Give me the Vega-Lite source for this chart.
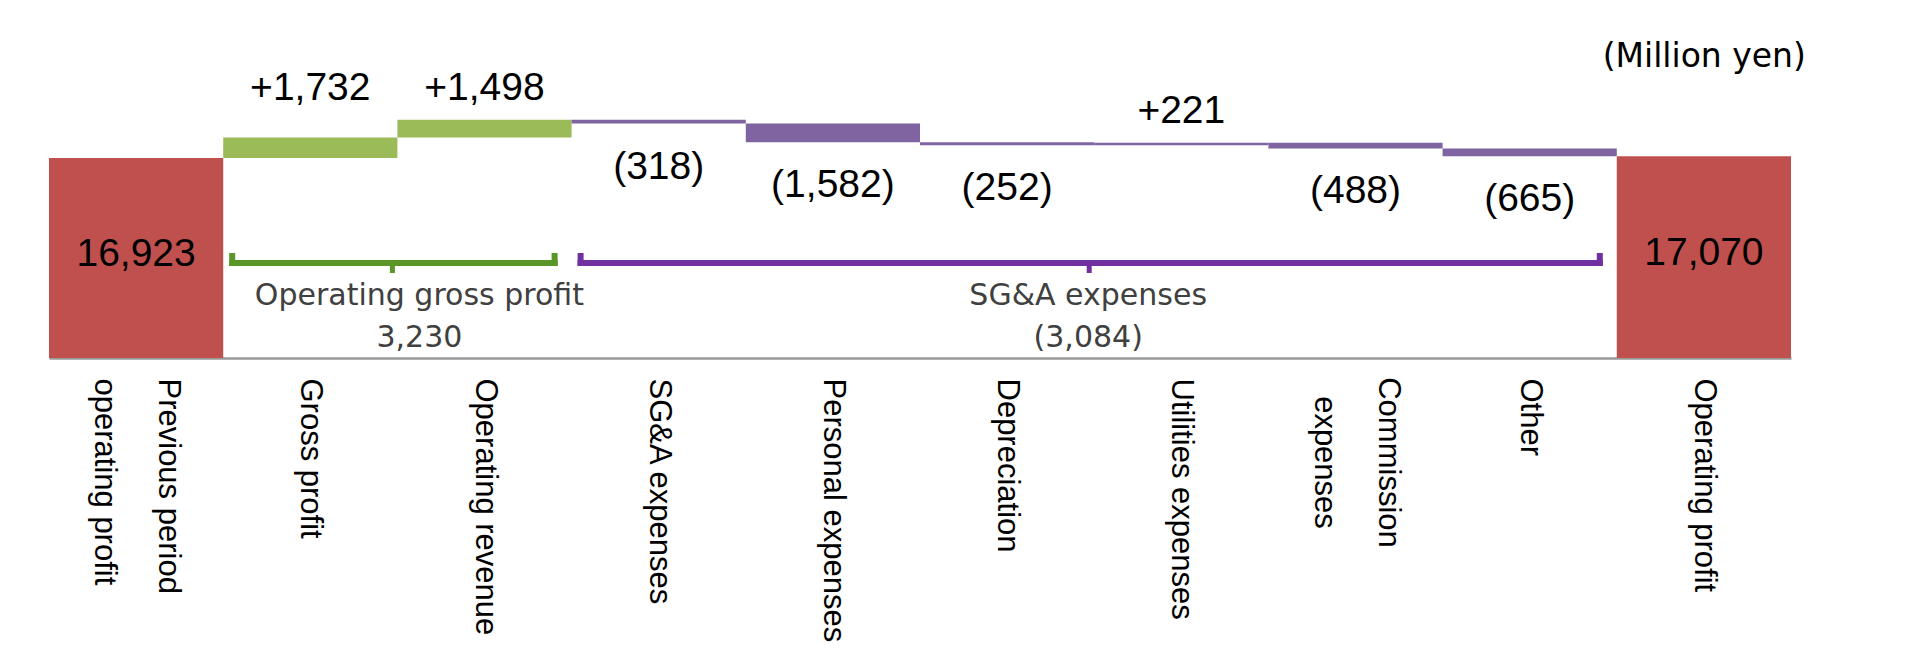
{
  "$schema": "https://vega.github.io/schema/vega-lite/v6.json",
  "autosize": {"type": "none"},
  "width": 1742,
  "height": 358,
  "padding": {"left": 49, "top": 0, "right": 136, "bottom": 292},
  "background": "white",
  "config": {"view": {"stroke": null}},
  "datasets": {
    "steps": [
      {"item": "Previous period operating profit", "amount": 16923, "kind": "start", "group": "total", "label": "16,923"},
      {"item": "Gross profit", "amount": 1732, "kind": "step", "group": "Operating gross profit", "label": "+1,732"},
      {"item": "Operating revenue", "amount": 1498, "kind": "step", "group": "Operating gross profit", "label": "+1,498"},
      {"item": "SG&A expenses", "amount": -318, "kind": "step", "group": "SG&A expenses", "label": "(318)"},
      {"item": "Personal expenses", "amount": -1582, "kind": "step", "group": "SG&A expenses", "label": "(1,582)"},
      {"item": "Depreciation", "amount": -252, "kind": "step", "group": "SG&A expenses", "label": "(252)"},
      {"item": "Utilities expenses", "amount": 221, "kind": "step", "group": "SG&A expenses", "label": "+221"},
      {"item": "Commission expenses", "amount": -488, "kind": "step", "group": "SG&A expenses", "label": "(488)"},
      {"item": "Other", "amount": -665, "kind": "step", "group": "SG&A expenses", "label": "(665)"},
      {"item": "Operating profit", "amount": 17070, "kind": "end", "group": "total", "label": "17,070"}
    ],
    "brackets": [
      {"group": "Operating gross profit", "first": "Gross profit", "mid": "Gross profit", "last": "Operating revenue", "text": "Operating gross profit\n3,230"},
      {"group": "SG&A expenses", "first": "SG&A expenses", "mid": "Depreciation", "last": "Other", "text": "SG&A expenses\n(3,084)"}
    ]
  },
  "encoding": {
    "x": {
      "field": "item", "type": "nominal", "sort": null, "title": null,
      "scale": {
        "domain": ["Previous period operating profit", "Gross profit", "Operating revenue", "SG&A expenses", "Personal expenses", "Depreciation", "Utilities expenses", "Commission expenses", "Other", "Operating profit"],
        "paddingInner": 0, "paddingOuter": 0
      },
      "axis": {
        "title": null,
        "labelAngle": 90,
        "labelAlign": {"condition": {"test": "datum.value == 'Commission expenses'", "value": "center"}, "value": "left"},
        "labelBaseline": "middle",
        "labelPadding": {"condition": {"test": "datum.value == 'Commission expenses'", "value": 104}, "value": 20},
        "labelOffset": {"condition": {"test": "datum.value == 'Previous period operating profit' || datum.value == 'Commission expenses'", "value": 32}, "value": 0},
        "labelFont": "Liberation Sans",
        "labelFontSize": 31,
        "labelColor": "#000000",
        "labelLimit": 600,
        "labelLineHeight": 64,
        "labelOverlap": false,
        "ticks": false,
        "domainColor": "#999999",
        "domainWidth": 2.5,
        "labelExpr": "datum.value == 'Previous period operating profit' ? ['Previous period', 'operating profit'] : datum.value == 'Commission expenses' ? ['Commission', 'expenses'] : datum.value"
      }
    }
  },
  "layer": [
    {
      "data": {"name": "steps"},
      "transform": [
        {"calculate": "datum.kind == 'end' ? 0 : datum.amount", "as": "delta"},
        {"window": [{"op": "sum", "field": "delta", "as": "cum"}], "frame": [null, 0]},
        {"calculate": "datum.kind == 'end' ? 0 : datum.cum - datum.delta", "as": "y0"},
        {"calculate": "datum.kind == 'end' ? datum.amount : datum.cum", "as": "y1"},
        {"calculate": "max(datum.y0, datum.y1)", "as": "top"},
        {"calculate": "min(datum.y0, datum.y1)", "as": "bot"},
        {"calculate": "(datum.y0 + datum.y1) / 2", "as": "mid"},
        {"window": [{"op": "max", "field": "top", "as": "ltop"}], "frame": [0, 1]}
      ],
      "layer": [
        {
          "mark": {"type": "bar"},
          "encoding": {
            "y": {"field": "y0", "type": "quantitative", "scale": {"domain": [0, 30292], "nice": false, "zero": false}, "axis": null},
            "y2": {"field": "y1"},
            "color": {
              "field": "group", "type": "nominal",
              "scale": {"domain": ["total", "Operating gross profit", "SG&A expenses"], "range": ["#C0504D", "#9BBB59", "#8064A2"]},
              "legend": null
            }
          }
        },
        {
          "transform": [{"filter": "datum.group == 'total'"}],
          "mark": {"type": "text", "font": "Liberation Sans", "fontSize": 39, "color": "#000000", "baseline": "middle", "dy": -4},
          "encoding": {
            "y": {"field": "mid", "type": "quantitative", "axis": null},
            "text": {"field": "label"}
          }
        },
        {
          "transform": [{"filter": "datum.group != 'total' && datum.amount > 0"}],
          "mark": {"type": "text", "font": "Liberation Sans", "fontSize": 39, "color": "#000000", "baseline": "alphabetic", "dy": -20},
          "encoding": {
            "y": {"field": "ltop", "type": "quantitative", "axis": null},
            "text": {"field": "label"}
          }
        },
        {
          "transform": [{"filter": "datum.group != 'total' && datum.amount < 0"}],
          "mark": {"type": "text", "font": "Liberation Sans", "fontSize": 39, "color": "#000000", "baseline": "alphabetic", "dy": 55},
          "encoding": {
            "y": {"field": "bot", "type": "quantitative", "axis": null},
            "text": {"field": "label"}
          }
        }
      ]
    },
    {
      "data": {"name": "brackets"},
      "layer": [
        {
          "mark": {"type": "rule", "strokeWidth": 6, "xOffset": 6, "x2Offset": -14},
          "encoding": {
            "x": {"field": "first", "type": "nominal", "bandPosition": 0, "title": null},
            "x2": {"field": "last", "bandPosition": 1},
            "y": {"datum": 8038, "type": "quantitative", "axis": null},
            "color": {"condition": {"test": "datum.group == 'Operating gross profit'", "value": "#5A9628"}, "value": "#7030A0"}
          }
        },
        {
          "mark": {"type": "rule", "strokeWidth": 6, "xOffset": 9},
          "encoding": {
            "x": {"field": "first", "type": "nominal", "bandPosition": 0, "title": null},
            "y": {"datum": 8885, "type": "quantitative", "axis": null},
            "y2": {"datum": 7785},
            "color": {"condition": {"test": "datum.group == 'Operating gross profit'", "value": "#5A9628"}, "value": "#7030A0"}
          }
        },
        {
          "mark": {"type": "rule", "strokeWidth": 6, "xOffset": -17},
          "encoding": {
            "x": {"field": "last", "type": "nominal", "bandPosition": 1, "title": null},
            "y": {"datum": 8885, "type": "quantitative", "axis": null},
            "y2": {"datum": 7785},
            "color": {"condition": {"test": "datum.group == 'Operating gross profit'", "value": "#5A9628"}, "value": "#7030A0"}
          }
        },
        {
          "mark": {"type": "rule", "strokeWidth": 5, "xOffset": -5},
          "encoding": {
            "x": {"field": "mid", "type": "nominal", "bandPosition": 1, "title": null},
            "y": {"datum": 8038, "type": "quantitative", "axis": null},
            "y2": {"datum": 7192},
            "color": {"condition": {"test": "datum.group == 'Operating gross profit'", "value": "#5A9628"}, "value": "#7030A0"}
          }
        },
        {
          "transform": [{"filter": "datum.group == 'Operating gross profit'"}],
          "mark": {"type": "text", "font": "DejaVu Sans", "fontSize": 30, "color": "#404040", "align": "center", "baseline": "alphabetic", "lineHeight": 42, "lineBreak": "\n", "dx": 22},
          "encoding": {
            "x": {"field": "mid", "type": "nominal", "bandPosition": 1, "title": null},
            "y": {"datum": 4485, "type": "quantitative", "axis": null},
            "text": {"field": "text"}
          }
        },
        {
          "transform": [{"filter": "datum.group == 'SG&A expenses'"}],
          "mark": {"type": "text", "font": "DejaVu Sans", "fontSize": 30, "color": "#404040", "align": "center", "baseline": "alphabetic", "lineHeight": 42, "lineBreak": "\n", "dx": -6},
          "encoding": {
            "x": {"field": "mid", "type": "nominal", "bandPosition": 1, "title": null},
            "y": {"datum": 4485, "type": "quantitative", "axis": null},
            "text": {"field": "text"}
          }
        }
      ]
    },
    {
      "data": {"values": [{"note": "(Million yen)"}]},
      "mark": {"type": "text", "font": "DejaVu Sans", "fontSize": 33, "color": "#000000", "align": "right", "baseline": "alphabetic", "dx": 102},
      "encoding": {
        "x": {"datum": "Operating profit", "type": "nominal", "title": null},
        "y": {"datum": 24623, "type": "quantitative", "axis": null},
        "text": {"field": "note"}
      }
    }
  ]
}
